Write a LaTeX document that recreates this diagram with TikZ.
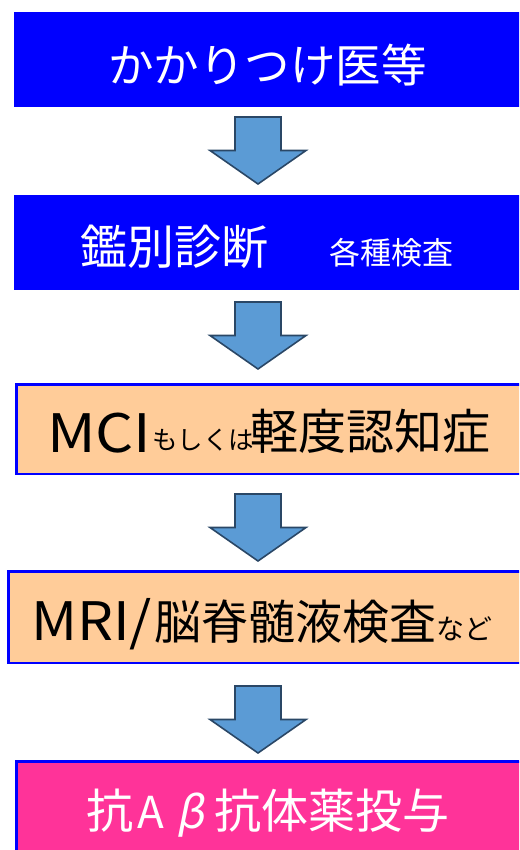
\documentclass[tikz,border=0pt]{standalone}
\usepackage{fontspec}
\setmainfont{Noto Sans CJK JP}
\usepackage{graphicx}
\definecolor{bblue}{HTML}{0000FF}
\definecolor{peach}{HTML}{FFCC99}
\definecolor{pinkm}{HTML}{FF3399}
\definecolor{arrfill}{HTML}{5B9BD5}
\definecolor{arrline}{HTML}{2A4766}
\newcommand\fsz[1]{\fontsize{#1}{#1}\selectfont}
\begin{document}
\begin{tikzpicture}[x=1pt,y=-1pt,
  bluebox/.style={fill=bblue, draw=none, inner sep=0, outer sep=0, anchor=north west},
  framebox/.style={draw=bblue, line width=2.5pt, inner sep=0, outer sep=0, anchor=north west},
  wtxt/.style={inner sep=0, outer sep=0, text=white},
  ktxt/.style={inner sep=0, outer sep=0, text=black},
  blockarrow/.pic={\draw[fill=arrfill, draw=arrline, line width=1.6pt, line join=miter]
     (-23,0) -- (23,0) -- (23,33.5) -- (48,33.5) -- (0,67) -- (-48,33.5) -- (-23,33.5) -- cycle;}
]
\clip (0,0) rectangle (519,850);
\fill[white] (0,0) rectangle (519,850);
% boxes
\node[bluebox, minimum width=530pt, minimum height=95pt] (b1) at (14,12) {};
\node[bluebox, minimum width=530pt, minimum height=95pt] (b2) at (14,195) {};
\node[framebox, fill=peach, minimum width=530pt, minimum height=89.5pt] (b3) at (16.25,384.25) {};
\node[framebox, fill=peach, minimum width=530pt, minimum height=91.5pt] (b4) at (8.25,571.25) {};
\node[framebox, fill=pinkm, minimum width=530pt, minimum height=120pt] (b5) at (16.25,761.25) {};
% arrows
\pic at (258,117) {blockarrow};
\pic at (258,302) {blockarrow};
\pic at (258,494) {blockarrow};
\pic at (258,686) {blockarrow};
% texts
\node[wtxt, anchor=base] (t1) at (267.5,83) {\fsz{45.5pt}かかりつけ医等};
\node[wtxt, anchor=base] (t2a) at (174.5,264.5) {\fsz{47pt}鑑別診断};
\node[wtxt, anchor=base] (t2b) at (391.5,264.5) {\fsz{31pt}各種検査};
\node[ktxt, anchor=base west] (t3a) at (47,452) {\fsz{53pt}\scalebox{1.13}[1]{MCI}};
\node[ktxt, anchor=base west] (t3b) at (152,449) {\fsz{25.5pt}もしくは};
\node[ktxt, anchor=base] (t3c) at (370,449) {\fsz{48pt}軽度認知症};
\node[ktxt, anchor=base west] (t4a) at (31,640) {\fsz{53pt}\scalebox{1.07}[1]{MRI/}};
\node[ktxt, anchor=base] (t4b) at (295,639) {\fsz{47pt}脳脊髄液検査};
\node[ktxt, anchor=base west] (t4c) at (436,639) {\fsz{28pt}など};
\node[wtxt, anchor=base] (t5a) at (110,828) {\fsz{47pt}抗};
\node[wtxt, anchor=base] (t5b) at (151,828) {\fsz{44pt}A};
\node[wtxt, anchor=base] (t5c) at (190,828) {\fsz{44pt}\addfontfeature{FakeSlant=0.2}β};
\node[wtxt, anchor=base] (t5d) at (332,828) {\fsz{47pt}抗体薬投与};
\end{tikzpicture}
\end{document}
